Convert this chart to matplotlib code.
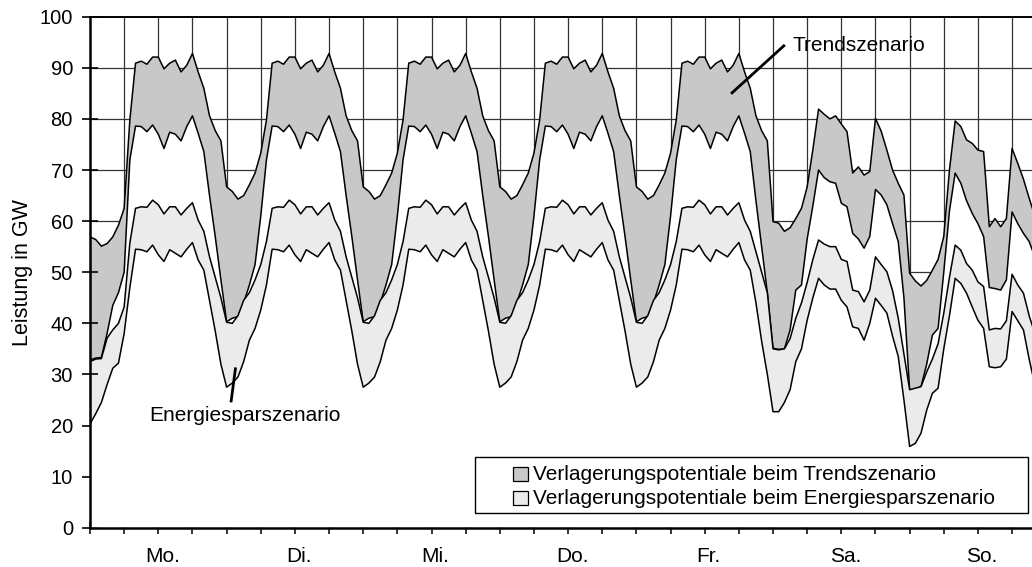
import numpy as np
import matplotlib
matplotlib.use('Agg')
from matplotlib import pyplot as plt
from matplotlib.patches import Rectangle

plt.rcParams['font.family'] = ['Liberation Sans', 'DejaVu Sans']

days = ['Mo.', 'Di.', 'Mi.', 'Do.', 'Fr.', 'Sa.', 'So.']

# hourly values in GW, one line per day (Mo ... So)
trend_oben = [
    56.9, 56.4, 55.1, 55.6, 56.9, 59.2, 62.5, 79.8, 90.9, 91.3, 90.7, 92.1, 92.1, 89.8, 90.9, 91.5, 89.2, 90.5, 92.8, 89.2, 86.0, 80.6, 77.7, 75.7,
    66.7, 65.8, 64.3, 65.0, 67.1, 69.4, 73.3, 79.8, 90.9, 91.3, 90.7, 92.1, 92.1, 89.8, 90.9, 91.5, 89.2, 90.5, 92.8, 89.2, 86.0, 80.6, 77.7, 75.7,
    66.7, 65.8, 64.3, 65.0, 67.1, 69.4, 73.3, 79.8, 90.9, 91.3, 90.7, 92.1, 92.1, 89.8, 90.9, 91.5, 89.2, 90.5, 92.8, 89.2, 86.0, 80.6, 77.7, 75.7,
    66.7, 65.8, 64.3, 65.0, 67.1, 69.4, 73.3, 79.8, 90.9, 91.3, 90.7, 92.1, 92.1, 89.8, 90.9, 91.5, 89.2, 90.5, 92.8, 89.2, 86.0, 80.6, 77.7, 75.7,
    66.7, 65.8, 64.3, 65.0, 67.1, 69.4, 73.3, 79.8, 90.9, 91.3, 90.7, 92.1, 92.1, 89.8, 90.9, 91.5, 89.2, 90.5, 92.8, 89.2, 86.0, 80.6, 77.7, 75.7,
    59.9, 59.6, 58.0, 58.7, 60.5, 62.5, 66.7, 74.0, 81.9, 80.9, 80.0, 80.6, 79.0, 77.5, 69.4, 70.6, 69.0, 69.7, 80.1, 77.6, 73.9, 70.0, 67.4, 65.1,
    49.8, 48.3, 47.3, 48.4, 50.4, 52.5, 57.0, 70.0, 79.6, 78.5, 75.9, 75.2, 73.9, 73.6, 58.9, 60.5, 58.9, 60.5, 74.2, 71.3, 68.2, 64.5, 61.0,
]
trend_unten = [
    32.8, 33.2, 33.3, 38.0, 43.5, 46.0, 50.0, 72.0, 78.6, 78.5, 77.5, 78.8, 77.0, 74.2, 77.4, 77.0, 75.7, 78.5, 80.6, 77.2, 73.6, 65.0, 57.0, 48.5,
    40.3, 41.0, 41.3, 44.0, 47.5, 51.5, 61.0, 72.0, 78.6, 78.5, 77.5, 78.8, 77.0, 74.2, 77.4, 77.0, 75.7, 78.5, 80.6, 77.2, 73.6, 65.0, 57.0, 48.5,
    40.3, 41.0, 41.3, 44.0, 47.5, 51.5, 61.0, 72.0, 78.6, 78.5, 77.5, 78.8, 77.0, 74.2, 77.4, 77.0, 75.7, 78.5, 80.6, 77.2, 73.6, 65.0, 57.0, 48.5,
    40.3, 41.0, 41.3, 44.0, 47.5, 51.5, 61.0, 72.0, 78.6, 78.5, 77.5, 78.8, 77.0, 74.2, 77.4, 77.0, 75.7, 78.5, 80.6, 77.2, 73.6, 65.0, 57.0, 48.5,
    40.3, 41.0, 41.3, 44.0, 47.5, 51.5, 61.0, 72.0, 78.6, 78.5, 77.5, 78.8, 77.0, 74.2, 77.4, 77.0, 75.7, 78.5, 80.6, 77.2, 73.6, 64.0, 55.0, 46.0,
    35.1, 34.9, 35.0, 38.7, 46.5, 47.5, 56.5, 63.0, 70.0, 68.5, 67.7, 67.4, 63.5, 62.8, 57.6, 56.5, 54.7, 57.0, 66.2, 65.1, 63.2, 59.5, 56.0, 45.0,
    26.9, 27.1, 27.6, 32.0, 37.7, 39.0, 50.0, 62.0, 69.4, 67.4, 64.0, 61.5, 59.5, 57.0, 47.0, 46.8, 46.5, 48.5, 61.8, 59.5, 57.6, 56.0, 53.0,
]
spar_oben = [
    32.5, 33.0, 33.1, 37.1, 38.7, 40.0, 43.2, 55.7, 62.5, 62.8, 62.7, 64.1, 63.2, 61.4, 62.8, 62.8, 61.2, 62.5, 63.6, 60.2, 58.0, 53.0, 49.0, 45.0,
    40.2, 40.0, 41.5, 44.5, 46.0, 48.5, 51.5, 56.0, 62.5, 62.8, 62.7, 64.1, 63.2, 61.4, 62.8, 62.8, 61.2, 62.5, 63.6, 60.2, 58.0, 53.0, 49.0, 45.0,
    40.2, 40.0, 41.5, 44.5, 46.0, 48.5, 51.5, 56.0, 62.5, 62.8, 62.7, 64.1, 63.2, 61.4, 62.8, 62.8, 61.2, 62.5, 63.6, 60.2, 58.0, 53.0, 49.0, 45.0,
    40.2, 40.0, 41.5, 44.5, 46.0, 48.5, 51.5, 56.0, 62.5, 62.8, 62.7, 64.1, 63.2, 61.4, 62.8, 62.8, 61.2, 62.5, 63.6, 60.2, 58.0, 53.0, 49.0, 45.0,
    40.2, 40.0, 41.5, 44.5, 46.0, 48.5, 51.5, 56.0, 62.5, 62.8, 62.7, 64.1, 63.2, 61.4, 62.8, 62.8, 61.2, 62.5, 63.6, 60.2, 58.0, 54.0, 50.0, 46.0,
    35.0, 34.8, 35.0, 37.0, 41.0, 44.0, 48.0, 52.5, 56.3, 55.5, 55.0, 55.0, 52.5, 52.1, 46.5, 46.2, 44.2, 46.5, 53.0, 51.5, 50.1, 46.4, 41.0, 34.0,
    27.0, 27.3, 27.6, 30.5, 33.0, 36.0, 42.0, 49.0, 55.3, 54.3, 51.7, 50.4, 48.1, 47.2, 38.7, 39.0, 38.9, 40.5, 49.6, 47.5, 45.9, 41.5, 38.0,
]
spar_unten = [
    20.3, 22.3, 24.5, 28.0, 31.2, 32.2, 38.0, 47.0, 54.5, 54.4, 54.0, 55.3, 53.4, 52.1, 54.4, 53.7, 53.0, 54.5, 55.8, 52.4, 50.4, 44.5, 38.5, 32.0,
    27.5, 28.3, 29.5, 32.5, 36.7, 39.0, 42.6, 47.5, 54.5, 54.4, 54.0, 55.3, 53.4, 52.1, 54.4, 53.7, 53.0, 54.5, 55.8, 52.4, 50.4, 44.5, 38.5, 32.0,
    27.5, 28.3, 29.5, 32.5, 36.7, 39.0, 42.6, 47.5, 54.5, 54.4, 54.0, 55.3, 53.4, 52.1, 54.4, 53.7, 53.0, 54.5, 55.8, 52.4, 50.4, 44.5, 38.5, 32.0,
    27.5, 28.3, 29.5, 32.5, 36.7, 39.0, 42.6, 47.5, 54.5, 54.4, 54.0, 55.3, 53.4, 52.1, 54.4, 53.7, 53.0, 54.5, 55.8, 52.4, 50.4, 44.5, 38.5, 32.0,
    27.5, 28.3, 29.5, 32.5, 36.7, 39.0, 42.6, 47.5, 54.5, 54.4, 54.0, 55.3, 53.4, 52.1, 54.4, 53.7, 53.0, 54.5, 55.8, 52.4, 50.4, 44.0, 36.5, 30.0,
    22.7, 22.7, 24.5, 27.0, 32.5, 35.0, 40.6, 45.0, 48.8, 47.5, 46.7, 46.7, 44.5, 43.2, 39.3, 39.0, 36.7, 40.0, 44.9, 43.5, 42.0, 37.5, 33.5, 25.0,
    15.9, 16.5, 18.5, 23.0, 26.3, 27.3, 35.0, 41.5, 48.8, 47.8, 45.9, 43.2, 40.6, 39.0, 31.5, 31.3, 31.5, 33.0, 42.3, 40.5, 38.7, 33.0, 28.0,
]

stunden = np.arange(len(trend_oben))

W, H = 1032, 567
fig = plt.figure(figsize=(W / 100, H / 100), dpi=100)
ax = fig.add_axes([90 / W, 1 - 527.7 / H, 942 / W, 511 / H])

dunkel = '#c8c8c8'
hell = '#ebebeb'

# grid under everything
for y in range(10, 100, 10):
    ax.axhline(y, color='#333333', lw=0.9, zorder=0.5)
for x in range(6, 166, 6):
    ax.axvline(x, color='#333333', lw=0.9, zorder=0.5)

# overlapping areas, drawn like in the original (each filled down to 0)
serien = [(trend_oben, dunkel), (trend_unten, 'white'), (spar_oben, hell), (spar_unten, 'white')]
for i, (werte, farbe) in enumerate(serien):
    ax.fill_between(stunden, 0, werte, facecolor=farbe, linewidth=0, zorder=1 + i * 0.2)
    ax.plot(stunden, werte, color='black', lw=1.1, zorder=1.1 + i * 0.2)

ax.set_xlim(0, 165.5)
ax.set_ylim(0, 100)

ax.set_yticks(range(0, 101, 10))
ax.tick_params(axis='y', direction='inout', length=11.5, width=1.2, pad=6.5, labelsize=14.5)
ax.set_xticks(range(0, 166, 6))
ax.set_xticklabels([])
ax.set_xticks([12.7 + 24 * k for k in range(7)], minor=True)
ax.set_xticklabels(days, minor=True)
ax.tick_params(axis='x', which='major', direction='inout', length=8.6, width=1.1)
ax.tick_params(axis='x', which='minor', length=0, pad=14, labelsize=15)

ax.set_ylabel('Leistung in GW', fontsize=15.5)
ax.yaxis.set_label_coords(-0.061, 0.5)

ax.spines['right'].set_visible(False)
for s in ['left', 'bottom']:
    ax.spines[s].set_linewidth(1.8)
ax.spines['top'].set_linewidth(1.4)
for s in ax.spines.values():
    s.set_zorder(5)

# annotations
ax.plot([112.8, 121.9], [85.1, 94.3], color='black', lw=2, zorder=6)
ax.text(135.1, 94.3, 'Trendszenario', fontsize=15, ha='center', va='center', zorder=6)
ax.plot([24.8, 25.55], [24.8, 31.1], color='black', lw=2, zorder=6)
ax.text(27.2, 22.0, 'Energiesparszenario', fontsize=15, ha='center', va='center', zorder=6)

# legend box drawn by hand (pixel positions of the reference)
def fx(px):
    return px / W

def fy(py):
    return 1 - py / H

fig.patches.append(Rectangle((fx(475), fy(513)), fx(1028) - fx(475), fy(457) - fy(513),
                             transform=fig.transFigure, facecolor='white', edgecolor='black', lw=1.0, zorder=10))
for yc, farbe, txt in [(474, dunkel, 'Verlagerungspotentiale beim Trendszenario'),
                       (498, hell, 'Verlagerungspotentiale beim Energiesparszenario')]:
    fig.patches.append(Rectangle((fx(513), fy(yc + 7)), fx(528) - fx(513), fy(yc - 7) - fy(yc + 7),
                                 transform=fig.transFigure, facecolor=farbe, edgecolor='black', lw=0.9, zorder=11))
    fig.text(fx(533), fy(yc), txt, fontsize=15, ha='left', va='center', zorder=11)

fig.savefig('out.png', dpi=100)
